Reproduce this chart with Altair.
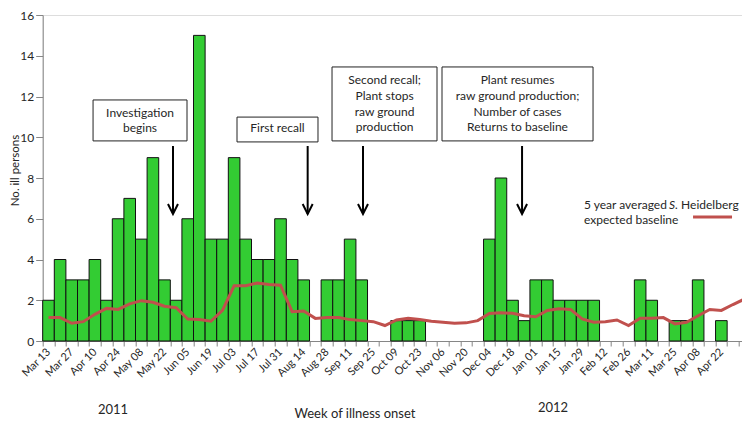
import altair as alt
import pandas as pd

# ---------------- data ----------------
tick_labels = ["Mar 13", "Mar 27", "Apr 10", "Apr 24", "May 08", "May 22", "Jun 05",
               "Jun 19", "Jul 03", "Jul 17", "Jul 31", "Aug 14", "Aug 28", "Sep 11",
               "Sep 25", "Oct 09", "Oct 23", "Nov 06", "Nov 20", "Dec 04", "Dec 18",
               "Jan 01", "Jan 15", "Jan 29", "Feb 12", "Feb 26", "Mar 11", "Mar 25",
               "Apr 08", "Apr 22"]

cases = [2, 4, 3, 3, 4, 2, 6, 7, 5, 9,
         3, 2, 6, 15, 5, 5, 9, 5, 4, 4,
         6, 4, 3, 0, 3, 3, 5, 3, 0, 0,
         1, 1, 1, 0, 0, 0, 0, 0, 5, 8,
         2, 1, 3, 3, 2, 2, 2, 2, 0, 0,
         0, 3, 2, 0, 1, 1, 3, 0, 1, 0, 0]

baseline = [1.15, 1.15, 0.87, 0.95, 1.31, 1.60, 1.55, 1.82, 1.98, 1.90,
            1.71, 1.63, 1.08, 1.05, 0.97, 1.50, 2.71, 2.71, 2.85, 2.77,
            2.74, 1.44, 1.47, 1.11, 1.15, 1.15, 1.05, 1.00, 0.95, 0.76,
            1.03, 1.12, 1.06, 0.97, 0.92, 0.87, 0.89, 1.00, 1.35, 1.39,
            1.36, 1.24, 1.19, 1.50, 1.58, 1.55, 1.08, 0.92, 0.95, 1.03,
            0.76, 1.12, 1.12, 1.15, 0.84, 0.92, 1.24, 1.55, 1.50, 1.79, 2.06]

# annotation boxes (week index / case units)
box_x1 = [4.34, 16.75, 24.94, 34.42]
box_x2 = [12.44, 23.73, 33.99, 47.44]
box_y1 = [9.82, 9.77, 9.82, 9.82]
box_y2 = [11.83, 10.99, 13.45, 13.45]

box_text_x = [8.39, 8.39, 20.24,
              29.47, 29.47, 29.47, 29.47,
              40.93, 40.93, 40.93, 40.93]
box_text_y = [11.19, 10.45, 10.45,
              12.81, 12.02, 11.24, 10.50,
              12.81, 12.02, 11.24, 10.50]
box_text = ["Investigation", "begins", "First recall",
            "Second recall;", "Plant stops", "raw ground", "production",
            "Plant resumes", "raw ground production;", "Number  of cases", "Returns to baseline"]

arrow_x = [11.23, 22.84, 27.61, 41.32]
arrow_top = [9.57, 9.57, 9.57, 9.57]
arrow_tip = [6.23, 6.23, 6.23, 6.23]

# ---------------- tables ----------------
n = len(cases)
weeks = pd.DataFrame({
    "x": list(range(n)),
    "x2": [i + 1 for i in range(n)],
    "xc": [i + 0.5 for i in range(n)],
    "y": cases,
    "y0": [0] * n,
    "base": baseline,
})
boxes = pd.DataFrame({"x": box_x1, "x2": box_x2, "y": box_y1, "y2": box_y2})
btext = pd.DataFrame({"x": box_text_x, "y": box_text_y, "t": box_text})
arrows = pd.DataFrame({"x": arrow_x, "y": arrow_top, "y2": arrow_tip})

legend_plain = pd.DataFrame({"x": [46.66, 55.03, 46.66], "y": [6.67, 6.67, 5.94],
                             "t": ["5 year averaged", "Heidelberg", "expected  baseline"]})
legend_ital = pd.DataFrame({"x": [53.99], "y": [6.67], "t": ["S."]})
legend_seg = pd.DataFrame({"x": [56.06], "x2": [59.42], "y": [6.09]})
years = pd.DataFrame({"x": [6.06, 43.99], "y": [-3.39, -3.29], "t": ["2011", "2012"]})
xtitle = pd.DataFrame({"x": [26.92], "y": [-3.58], "t": ["Week of illness onset"]})

# ---------------- scales / axes ----------------
FONT = "Lato"
TXT = "#262626"
AX = "#868686"

label_arr = "[" + ",".join("'%s'" % s for s in tick_labels) + "]"
x_values = sorted([i for i in range(n)] + [2 * k + 0.5 for k in range(len(tick_labels))])

xs = alt.Scale(domain=[0, 60.28], nice=False, zero=False)
ys = alt.Scale(domain=[0, 16], nice=False)

xa = alt.Axis(
    values=x_values, title=None, grid=False,
    labelExpr="datum.value % 1 == 0 ? '' : " + label_arr + "[floor(datum.value / 2)]",
    labelAngle=-45, labelAlign="right", labelBaseline="middle", labelPadding=4,
    labelFontSize=11, labelFont=FONT, labelColor=TXT, labelOverlap=False,
    labelFlush=False, labelBound=False,
    tickSize=5, tickColor=AX, domainColor=AX,
    tickOpacity={"condition": {"test": "datum.value % 1 != 0", "value": 0}, "value": 1},
)
ya = alt.Axis(
    values=list(range(0, 17, 2)), grid=False, title="No. ill persons",
    labelFontSize=12, labelFont=FONT, labelColor=TXT, labelPadding=2,
    tickSize=7, tickColor=AX, domainColor=AX,
    titleFont=FONT, titleFontSize=11.5, titleFontWeight="normal", titleColor=TXT,
    titleX=-27, titleY=155, titleAlign="center", titleBaseline="middle", titleAngle=-90,
)


def X(f):
    return alt.X(f, type="quantitative", scale=xs, axis=xa)


def Y(f):
    return alt.Y(f, type="quantitative", scale=ys, axis=ya)


bars = alt.Chart(weeks).transform_filter("datum.y > 0").mark_bar(
    color="#33CC33", stroke="#111111", strokeWidth=1
).encode(x=X("x"), x2="x2:Q", y=Y("y"), y2="y0:Q")

line = alt.Chart(weeks).mark_line(color="#C0504D", strokeWidth=3, clip=True).encode(
    x=X("xc"), y=Y("base")
)

box_layer = alt.Chart(boxes).mark_rect(fill="white", stroke="#222222", strokeWidth=1).encode(
    x=X("x"), x2="x2:Q", y=Y("y"), y2="y2:Q"
)

box_txt = alt.Chart(btext).mark_text(
    font=FONT, fontSize=12, color=TXT, align="center", baseline="middle"
).encode(x=X("x"), y=Y("y"), text="t:N")

shaft = alt.Chart(arrows).mark_rule(color="black", strokeWidth=2).encode(
    x=X("x"), y=Y("y"), y2="y2:Q"
)
head = alt.Chart(arrows).mark_point(
    shape="M -1 -2 L 0 0 L 1 -2", size=100, filled=False, stroke="black", strokeWidth=2, opacity=1
).encode(x=X("x"), y=Y("y2"))

leg1 = alt.Chart(legend_plain).mark_text(
    font=FONT, fontSize=12, color=TXT, align="left", baseline="middle"
).encode(x=X("x"), y=Y("y"), text="t:N")
leg2 = alt.Chart(legend_ital).mark_text(
    font=FONT, fontSize=12, color=TXT, align="left", baseline="middle", fontStyle="italic"
).encode(x=X("x"), y=Y("y"), text="t:N")
leg3 = alt.Chart(legend_seg).mark_rule(color="#C0504D", strokeWidth=3).encode(
    x=X("x"), x2="x2:Q", y=Y("y")
)

yr = alt.Chart(years).mark_text(
    font=FONT, fontSize=13, color=TXT, align="center", baseline="middle"
).encode(x=X("x"), y=Y("y"), text="t:N")
xt = alt.Chart(xtitle).mark_text(
    font=FONT, fontSize=13, color=TXT, align="center", baseline="middle"
).encode(x=X("x"), y=Y("y"), text="t:N")

chart = alt.layer(
    bars, line, box_layer, box_txt, shaft, head, leg1, leg2, leg3, yr, xt
).properties(
    width=699.3, height=326,
    padding={"left": 34.7, "top": 7, "right": 0, "bottom": 80},
    autosize=alt.AutoSizeParams(type="none"),
    background="white",
).configure_view(stroke=None).configure(font=FONT)

chart.save("out.html", embed_options={"renderer": "svg", "actions": False})
